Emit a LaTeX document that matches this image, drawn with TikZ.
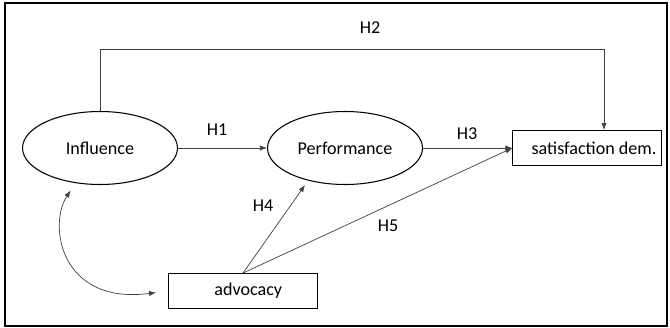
\documentclass[tikz,border=0pt]{standalone}
\usepackage{fontspec}
\setmainfont{Carlito}
\usetikzlibrary{shapes.geometric,arrows.meta}
\begin{document}
\begin{tikzpicture}[x=0.02cm, y=-0.02cm]
	\tikzset{
		construct/.style={ellipse, draw, line width=0.6pt, inner sep=0pt, minimum width=3.1cm, minimum height=1.46cm, font=\fontsize{10.3}{12}\selectfont},
		measure/.style={rectangle, draw, line width=0.5pt, inner sep=0pt, minimum width=2.97cm, minimum height=0.7cm, font=\fontsize{10.3}{12}\selectfont},
		path/.style={draw=black!75, line width=0.4pt, -{Latex[length=4pt,width=3pt]}},
		hyp/.style={font=\fontsize{10.3}{12}\selectfont}
	}
	\useasboundingbox (0,0) rectangle (670,328);
	\draw[line width=1.7pt] (5,3) rectangle (667,326);
	\node[construct] (inf) at (100,148) {Influence};
	\node[construct] (perf) at (345,148) {Performance};
	\node[measure] (sat) at (587,148) {\hspace{8pt}satisfaction dem.};
	\node[measure] (adv) at (243,291) {\hspace{6pt}advocacy};
	\coordinate (top) at (100,49);
	\draw[path] (inf.north) -- (top) -| (sat.north -| 604,0);
	\draw[path] (inf.east) -- (perf.west);
	\draw[path] (perf.east) -- (sat.west);
	\draw[path] (adv.north) -- (perf.south -| 305,0);
	\draw[path] (adv.north) -- (sat.west);
	\draw[draw=black!75, line width=0.4pt, {Latex[length=4pt,width=3pt]}-{Latex[length=4pt,width=3pt]}, shorten <=5pt, shorten >=7pt]
		(inf.235) .. controls (48,225) and (60,305) .. (adv.west);
	\node[hyp] (h1) at (217,130) {H1};
	\node[hyp] (h2) at (370,28) {H2};
	\node[hyp] (h3) at (467,134) {H3};
	\node[hyp] (h4) at (263,206) {H4};
	\node[hyp] (h5) at (388,226) {H5};
\end{tikzpicture}
\end{document}
